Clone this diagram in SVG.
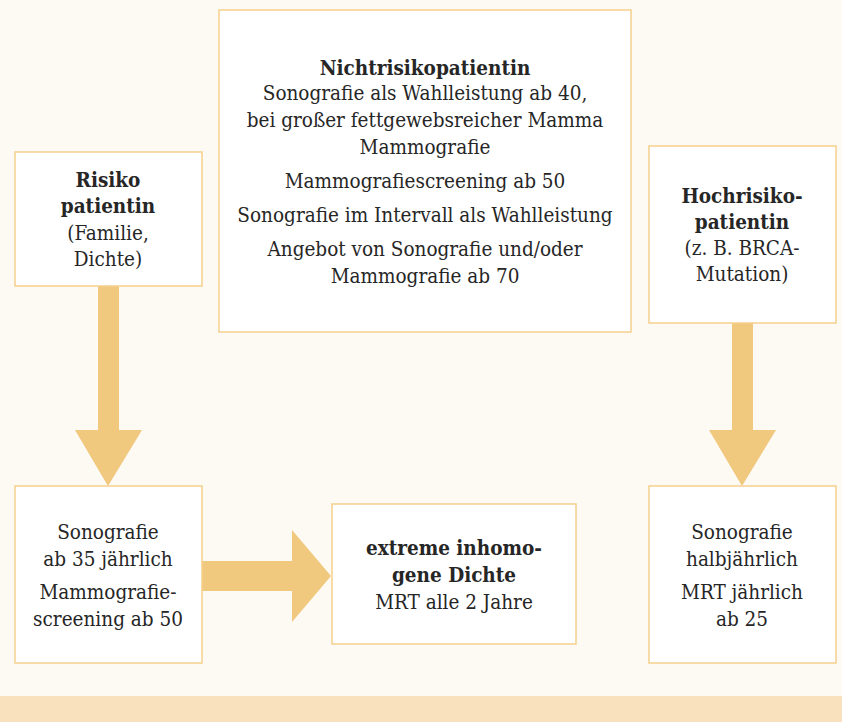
<svg xmlns="http://www.w3.org/2000/svg" width="842" height="722" viewBox="0 0 842 722">
<style>
.box{fill:#ffffff;stroke:#f5cf8c;stroke-width:1.5}
.arr{fill:#f0c87e}
text{font-family:"DejaVu Serif","Liberation Serif",serif;font-stretch:condensed;font-size:20.5px;fill:#262626;text-anchor:middle}
.b{font-weight:bold}
</style>
<rect x="0" y="0" width="842" height="722" fill="#fdf9f3"/>
<rect x="0" y="696" width="842" height="26" fill="#f8e1bc"/>
<g id="connectors">
<polygon class="arr" points="98,286 119,286 119,430 142,430 108,486 75,430 98,430"/>
<polygon class="arr" points="732,323 753,323 753,430 776,430 742,486 709,430 732,430"/>
<polygon class="arr" points="202,561 292,561 292,530 331,576 292,622 292,591 202,591"/>
</g>
<g id="risiko">
<rect class="box" x="15" y="152" width="187" height="134"/>
<text x="108" y="187" class="b">Risiko</text>
<text x="108" y="213" class="b">patientin</text>
<text x="108" y="240">(Familie,</text>
<text x="108" y="266">Dichte)</text>
</g>
<g id="nichtrisiko">
<rect class="box" x="219" y="10" width="412" height="322"/>
<text x="425" y="75" class="b">Nichtrisikopatientin</text>
<text x="425" y="100">Sonografie als Wahlleistung ab 40,</text>
<text x="425" y="127">bei großer fettgewebsreicher Mamma</text>
<text x="425" y="154">Mammografie</text>
<text x="425" y="188">Mammografiescreening ab 50</text>
<text x="425" y="222">Sonografie im Intervall als Wahlleistung</text>
<text x="425" y="256">Angebot von Sonografie und/oder</text>
<text x="425" y="283">Mammografie ab 70</text>
</g>
<g id="hochrisiko">
<rect class="box" x="649" y="146" width="187" height="177"/>
<text x="742" y="203" class="b">Hochrisiko-</text>
<text x="742" y="229" class="b">patientin</text>
<text x="742" y="255">(z. B. BRCA-</text>
<text x="742" y="281">Mutation)</text>
</g>
<g id="risiko-untersuchung">
<rect class="box" x="15" y="486" width="187" height="177"/>
<text x="108" y="539">Sonografie</text>
<text x="108" y="566">ab 35 jährlich</text>
<text x="108" y="599">Mammografie-</text>
<text x="108" y="626">screening ab 50</text>
</g>
<g id="dichte">
<rect class="box" x="332" y="504" width="244" height="140"/>
<text x="454" y="555" class="b">extreme inhomo-</text>
<text x="454" y="582" class="b">gene Dichte</text>
<text x="454" y="609">MRT alle 2 Jahre</text>
</g>
<g id="hochrisiko-untersuchung">
<rect class="box" x="649" y="486" width="187" height="177"/>
<text x="742" y="539">Sonografie</text>
<text x="742" y="566">halbjährlich</text>
<text x="742" y="599">MRT jährlich</text>
<text x="742" y="626">ab 25</text>
</g>
</svg>
